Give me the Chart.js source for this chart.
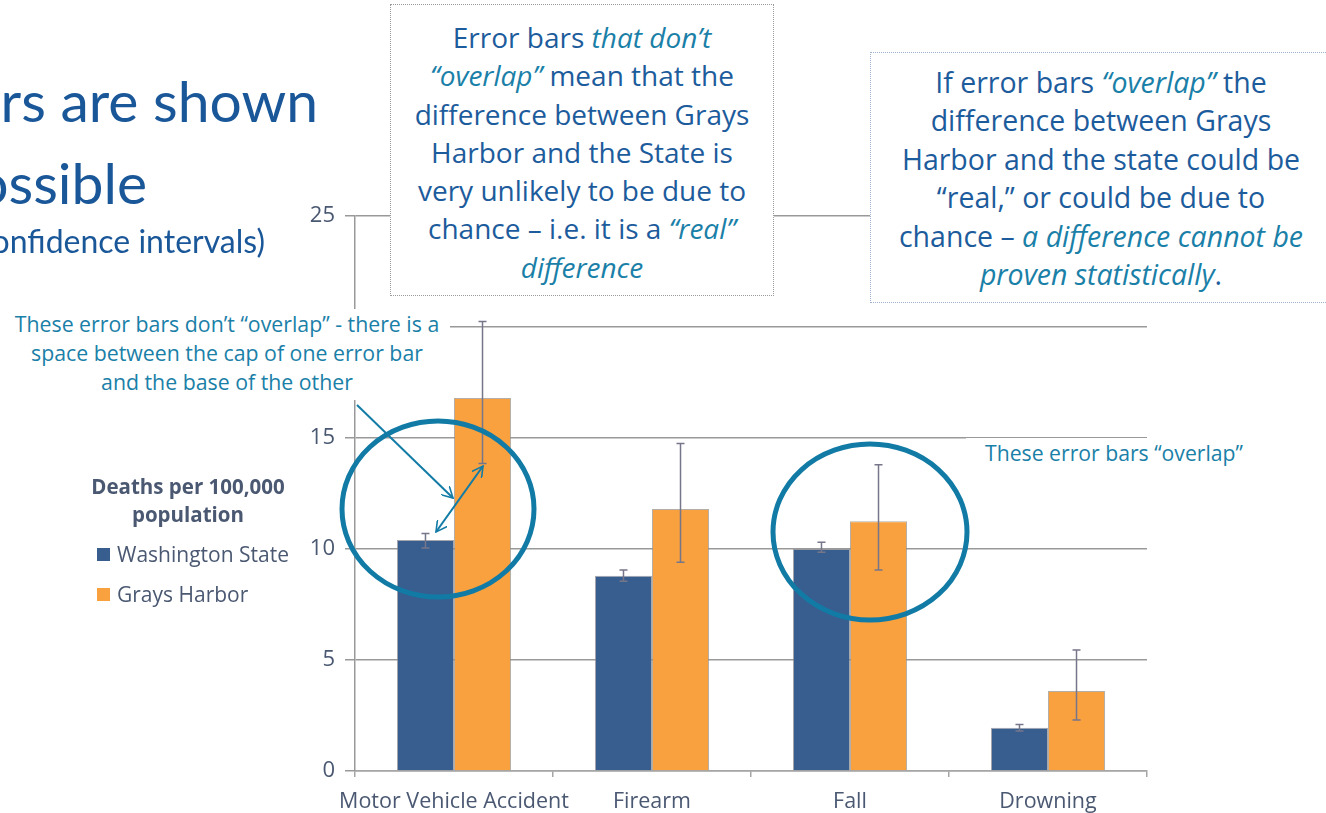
<!DOCTYPE html>
<html>
<head>
<meta charset="utf-8">
<script src="https://cdn.jsdelivr.net/npm/chart.js@4/dist/chart.umd.min.js"></script>
<style>
  html, body { margin: 0; padding: 0; background: #fff; }
  body { width: 1326px; height: 813px; position: relative; overflow: hidden; font-family: "Open Sans", Lato, sans-serif; }
  #chart { position: absolute; left: 0; top: 0; }
  .title { position: absolute; white-space: nowrap; color: #1a5799; text-align: right; font-family: Lato, sans-serif; }
  .box { position: absolute; background: #fff; text-align: center; color: #1d5c9c; box-sizing: border-box; white-space: nowrap; }
  .box i { color: #1a80a8; }
  .note { position: absolute; background: #fff; color: #1a80a8; text-align: center; white-space: nowrap; }
  #legend { position: absolute; left: 80px; top: 472px; width: 216px; color: #4a5872; }
  #legend .ttl { font-weight: bold; font-size: 20.5px; line-height: 28px; text-align: center; margin-bottom: 5px; }
  #legend .item { font-size: 21px; margin-top: 12px; display: flex; align-items: center; line-height: 28px; }
  #legend .sw { width: 13px; height: 13px; margin: 0 7px 0 17px; }
  svg { position: absolute; left: 0; top: 0; }
</style>
</head>
<body>
<canvas id="chart" width="1326" height="813"></canvas>

<div class="title" style="right:1008px; top:66px; font-size:57px;">Error bars are shown</div>
<div class="title" style="right:1179px; top:148px; font-size:57px;">where possible</div>
<div class="title" style="right:1061px; top:221px; font-size:32px;">(95% confidence intervals)</div>

<div class="box" style="left:390px; top:4px; width:384px; height:292px; border:1px dotted #9a9a9a; font-size:28px; line-height:38.3px; padding-top:13px;">
  Error bars <i>that don’t<br>“overlap”</i> mean that the<br>difference between Grays<br>Harbor and the State is<br>very unlikely to be due to<br>chance – i.e. it is a <i>“real”<br>difference</i>
</div>

<div class="box" style="left:870px; top:52px; width:462px; height:251px; border:1px dotted #9fb4cc; font-size:28.5px; line-height:38.4px; padding-top:10px;">
  If error bars <i>“overlap”</i> the<br>difference between Grays<br>Harbor and the state could be<br>“real,” or could be due to<br>chance – <i>a difference cannot be<br>proven statistically</i>.
</div>

<div class="note" style="left:4px; top:309px; width:446px; font-size:21.3px; line-height:29px; padding-bottom:4px;">
  These error bars don’t “overlap” - there is a<br>space between the cap of one error bar<br>and the base of the other
</div>

<div class="note" style="left:966px; top:438px; width:296px; font-size:21.2px; line-height:29px;">These error bars “overlap”</div>

<div id="legend"></div>

<svg width="1326" height="813" viewBox="0 0 1326 813">
  <defs>
    <marker id="head" viewBox="0 0 12 12" refX="11" refY="6" markerWidth="12" markerHeight="12" markerUnits="userSpaceOnUse" orient="auto-start-reverse">
      <path d="M0,0 L11,6 L0,12" fill="none" stroke="#137ca6" stroke-width="1.6"/>
    </marker>
  </defs>
  <ellipse cx="438" cy="509" rx="96" ry="88" fill="none" stroke="#127ba5" stroke-width="5"/>
  <ellipse cx="870" cy="532" rx="97" ry="88" fill="none" stroke="#127ba5" stroke-width="5"/>
  <line x1="357" y1="405" x2="453" y2="498" stroke="#137ca6" stroke-width="2" marker-end="url(#head)"/>
  <line x1="436" y1="532" x2="483" y2="466" stroke="#137ca6" stroke-width="2" marker-start="url(#head)" marker-end="url(#head)"/>
</svg>

<script>
// categories and series
const categories = ['Motor Vehicle Accident', 'Firearm', 'Fall', 'Drowning'];
const seriesNames = ['Washington State', 'Grays Harbor'];
const seriesColors = ['#385d8f', '#f9a13f'];

const waRates = [10.4, 8.8, 10.0, 1.95];
const waLower = [10.05, 8.55, 9.85, 1.8];
const waUpper = [10.7, 9.05, 10.3, 2.1];

const ghRates = [16.8, 11.8, 11.25, 3.6];
const ghLower = [13.85, 9.4, 9.05, 2.3];
const ghUpper = [20.25, 14.75, 13.8, 5.45];

const yTicks = [0, 5, 10, 15, 20, 25];

const errorRanges = [
  { lower: waLower, upper: waUpper },
  { lower: ghLower, upper: ghUpper }
];

// legend built from the series
document.getElementById('legend').innerHTML =
  '<div class="ttl">Deaths per 100,000<br>population</div>' +
  seriesNames.map((n, i) =>
    `<div class="item"><span class="sw" style="background:${seriesColors[i]}"></span>${n}</div>`
  ).join('');

// draws confidence interval whiskers on top of the bars
const errorBarPlugin = {
  id: 'errorBars',
  afterDatasetsDraw(chart) {
    const ctx = chart.ctx;
    const y = chart.scales.y;
    ctx.save();
    ctx.strokeStyle = '#76768a';
    ctx.lineWidth = 1.5;
    chart.data.datasets.forEach((ds, di) => {
      const meta = chart.getDatasetMeta(di);
      const range = errorRanges[di];
      meta.data.forEach((bar, i) => {
        const top = y.getPixelForValue(range.upper[i]);
        const bottom = y.getPixelForValue(range.lower[i]);
        ctx.beginPath();
        ctx.moveTo(bar.x, top);
        ctx.lineTo(bar.x, bottom);
        ctx.moveTo(bar.x - 4, top);
        ctx.lineTo(bar.x + 4, top);
        ctx.moveTo(bar.x - 4, bottom);
        ctx.lineTo(bar.x + 4, bottom);
        ctx.stroke();
      });
    });
    ctx.restore();
  }
};

Chart.defaults.font.family = '"Open Sans", Lato, sans-serif';

new Chart(document.getElementById('chart'), {
  type: 'bar',
  data: {
    labels: categories,
    datasets: [
      {
        label: seriesNames[0],
        data: waRates,
        backgroundColor: seriesColors[0],
        borderColor: 'rgba(130,130,140,0.7)',
        borderWidth: 1
      },
      {
        label: seriesNames[1],
        data: ghRates,
        backgroundColor: seriesColors[1],
        borderColor: 'rgba(150,140,130,0.7)',
        borderWidth: 1
      }
    ]
  },
  options: {
    responsive: false,
    animation: false,
    layout: { padding: { left: 290, right: 179, top: 216, bottom: 0 } },
    datasets: {
      bar: { categoryPercentage: 0.576, barPercentage: 1.0 }
    },
    plugins: {
      legend: { display: false },
      tooltip: { enabled: false }
    },
    scales: {
      x: {
        grid: { drawOnChartArea: false, drawTicks: true, tickLength: 6, color: '#a6a6a6', lineWidth: 1.5 },
        border: { color: '#a6a6a6', width: 1.5 },
        ticks: { color: '#4a5872', font: { size: 21.5 }, padding: 12, maxRotation: 0, minRotation: 0, autoSkip: false },
        afterFit: s => { s.height = 42; }
      },
      y: {
        min: 0,
        max: 25,
        afterBuildTicks: s => { s.ticks = yTicks.map(v => ({ value: v })); },
        grid: { color: '#999999', lineWidth: 1.5, tickLength: 10 },
        border: { color: '#999999', width: 1.5 },
        ticks: { color: '#4a5872', font: { size: 22 }, padding: 10 },
        afterFit: s => { s.width = 65; }
      }
    }
  },
  plugins: [errorBarPlugin]
});
</script>
</body>
</html>
